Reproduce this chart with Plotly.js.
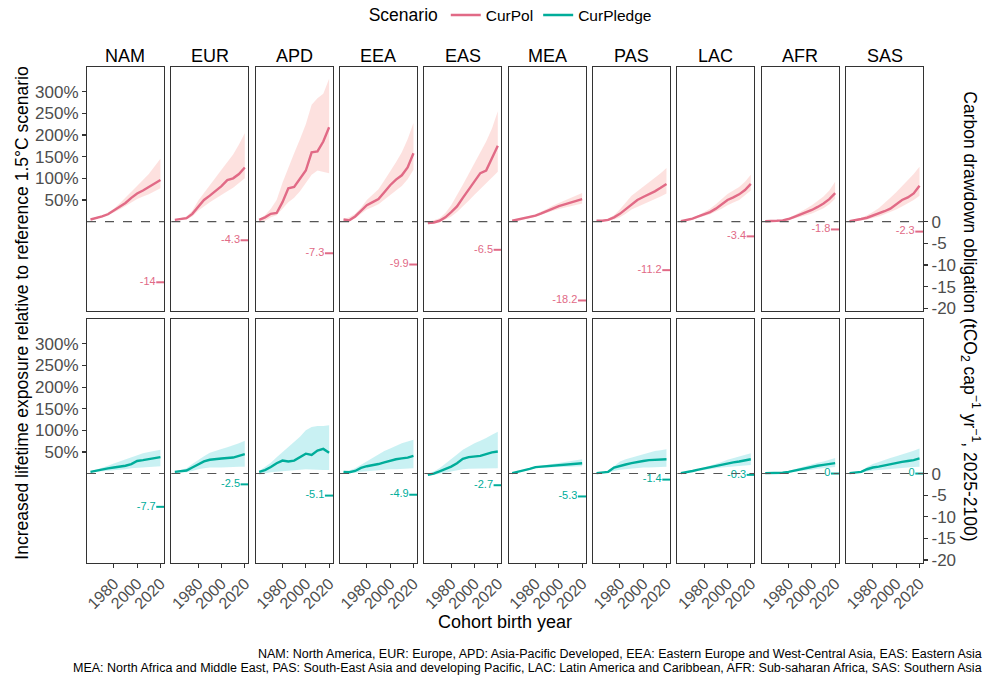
<!DOCTYPE html>
<html>
<head>
<meta charset="utf-8">
<script src="https://cdn.plot.ly/plotly-3.0.1.min.js"></script>
<style>html,body{margin:0;padding:0;background:#fff;}#chart{width:984px;height:675px;}</style>
</head>
<body>
<div id="chart"></div>
<script>
// ---------------- DATA ----------------
const regions = ['NAM','EUR','APD','EEA','EAS','MEA','PAS','LAC','AFR','SAS'];
const years = [1960,1965,1970,1975,1980,1985,1990,1995,2000,2005,2010,2015,2020];
const xTicks = [1980, 2000, 2020];
const leftTickVals = [50,100,150,200,250,300];
const leftTickText = ['50%','100%','150%','200%','250%','300%'];
const rightTickVals = [0,-5,-10,-15,-20];
const rightTickText = ['0','-5','-10','-15','-20'];

// CurPol: increased lifetime exposure (%), median and band
const curPolMid = {
  NAM:[5,8,12,17,25,33,43,55,65,72,80,88,96],
  EUR:[4,6,8,18,35,50,60,70,82,96,100,110,125],
  APD:[4,10,18,20,45,77,80,98,118,160,162,185,218],
  EEA:[5,3,12,25,38,45,52,68,84,97,107,125,158],
  EAS:[-3,-2,2,10,22,35,55,75,95,112,118,148,175],
  MEA:[2,5,7,10,14,19,25,31,36,40,44,48,52],
  PAS:[2,2,4,10,18,28,40,50,57,63,70,78,87],
  LAC:[1,4,7,12,17,22,30,40,50,56,63,73,87],
  AFR:[1,1,2,3,6,11,16,21,27,34,42,52,66],
  SAS:[1,3,6,9,14,18,24,30,40,50,56,65,83]
};
const curPolHi = {
  NAM:[6,10,15,21,30,42,55,68,82,96,110,127,145],
  EUR:[5,8,12,25,48,66,85,102,120,137,155,178,204],
  APD:[6,15,30,50,90,125,158,190,225,270,285,295,330],
  EEA:[6,10,18,32,50,62,75,95,115,137,160,190,228],
  EAS:[0,3,8,20,38,60,85,110,135,160,185,215,255],
  MEA:[3,6,9,13,17,23,30,37,43,48,54,60,66],
  PAS:[3,4,7,15,28,45,60,70,80,90,100,112,124],
  LAC:[2,5,9,15,22,30,40,52,64,72,80,92,108],
  AFR:[2,2,3,5,9,15,22,30,38,47,58,72,92],
  SAS:[2,5,9,15,22,31,42,55,68,82,95,110,127]
};
const curPolLo = {
  NAM:[4,7,10,15,21,28,35,44,52,58,63,70,77],
  EUR:[3,4,5,12,25,35,45,54,62,70,78,88,100],
  APD:[-3,2,10,15,30,45,55,70,90,108,118,115,112],
  EEA:[3,1,8,18,28,34,40,50,62,72,82,98,120],
  EAS:[-6,-5,-2,4,12,22,35,48,62,76,90,102,115],
  MEA:[1,3,5,8,11,15,20,25,29,33,36,39,42],
  PAS:[1,1,2,5,10,18,28,34,40,46,52,58,65],
  LAC:[0,3,5,9,13,17,23,30,38,44,50,60,72],
  AFR:[0,0,1,2,4,7,11,15,19,25,31,40,53],
  SAS:[0,1,3,5,8,12,17,22,28,35,42,50,60]
};
// CurPledge
const pledgeMid = {
  NAM:[4,7,9,12,14,16,18,22,29,31,33,35,38],
  EUR:[4,5,7,14,22,28,32,34,35,36,37,41,45],
  APD:[4,8,15,24,30,28,30,38,46,43,53,57,48],
  EEA:[4,3,6,13,17,19,22,26,30,33,35,37,41],
  EAS:[-3,0,5,10,16,24,34,38,39,41,45,49,51],
  MEA:[1,4,8,11,15,16,17,18,19,20,21,22,24],
  PAS:[1,2,4,14,18,21,24,27,29,31,32,33,33],
  LAC:[1,3,6,9,12,14,17,20,23,26,28,30,33],
  AFR:[1,1,1,2,4,7,10,13,15,18,20,22,24],
  SAS:[1,2,4,10,14,16,19,21,24,27,29,31,35]
};
const pledgeHi = {
  NAM:[5,9,13,18,23,28,33,38,43,47,50,53,55],
  EUR:[5,8,12,22,32,40,48,53,57,61,65,70,76],
  APD:[6,15,25,38,50,62,72,85,100,108,110,110,112],
  EEA:[5,7,12,20,28,37,45,52,58,64,70,74,78],
  EAS:[0,5,12,22,32,44,55,63,70,76,82,90,97],
  MEA:[2,5,9,13,17,18,20,22,24,26,28,30,33],
  PAS:[2,3,6,18,28,33,37,41,45,49,52,54,56],
  LAC:[2,4,7,10,14,18,22,27,32,36,40,44,47],
  AFR:[2,2,2,4,6,10,14,18,22,25,28,32,36],
  SAS:[2,4,6,15,22,27,32,36,40,44,48,53,58]
};
const pledgeLo = {
  NAM:[3,5,6,7,8,9,10,12,14,15,15,16,17],
  EUR:[3,3,3,6,10,12,14,14,14,15,15,16,16],
  APD:[-3,0,3,5,6,7,8,9,10,10,9,8,8],
  EEA:[2,1,2,4,6,7,8,9,10,10,11,11,12],
  EAS:[-5,-3,0,2,5,8,10,11,11,12,12,12,12],
  MEA:[0,3,6,9,12,13,14,14,15,15,16,16,17],
  PAS:[0,1,2,6,9,11,12,13,14,14,15,15,16],
  LAC:[0,2,4,6,9,10,12,14,16,17,18,19,20],
  AFR:[0,0,0,1,2,4,6,8,9,11,12,14,15],
  SAS:[0,1,2,5,7,9,10,11,12,13,14,15,16]
};
// Carbon drawdown obligation (tCO2 cap-1 yr-1)
const drawPol    = [-14,-4.3,-7.3,-9.9,-6.5,-18.2,-11.2,-3.4,-1.8,-2.3];
const drawPledge = [-7.7,-2.5,-5.1,-4.9,-2.7,-5.3,-1.4,-0.3,0,0];
const drawYear = 2020;

const footer1 = 'NAM: North America, EUR: Europe, APD: Asia-Pacific Developed, EEA: Eastern Europe and West-Central Asia, EAS: Eastern Asia';
const footer2 = 'MEA: North Africa and Middle East, PAS: South-East Asia and developing Pacific, LAC: Latin America and Caribbean, AFR: Sub-saharan Africa, SAS: Southern Asia';

// ---------------- STYLE ----------------
const scen = [
  {name:'CurPol', mid:curPolMid, hi:curPolHi, lo:curPolLo, draw:drawPol,
   line:'#E16A86', fill:'rgba(248,118,109,0.22)'},
  {name:'CurPledge', mid:pledgeMid, hi:pledgeHi, lo:pledgeLo, draw:drawPledge,
   line:'#00AD9A', fill:'rgba(0,191,196,0.21)'}
];
const FONT = 'Liberation Sans, Arial, Helvetica, sans-serif';
const TICKC = '#4D4D4D';
const W = 984, H = 675;
const M = {l:87.3, r:W-923.3, t:66.7, b:H-563.3};
const plotW = W - M.l - M.r, plotH = H - M.t - M.b;
const gapX = 7.4;
const panelW = (plotW - 9*gapX)/10;
const pxToFracX = px => (px - M.l)/plotW;
const pxToFracY = py => (H - M.b - py)/plotH;
const rowDomains = [[pxToFracY(311.3), 1], [0, pxToFracY(319.3)]];
const yRange = [-207, 357];

const layout = {
  width:W, height:H,
  margin:{l:M.l, r:M.r, t:M.t, b:M.b, pad:0, autoexpand:false},
  paper_bgcolor:'#fff', plot_bgcolor:'#fff',
  font:{family:FONT, color:'#000'},
  showlegend:true,
  legend:{orientation:'h', x:pxToFracX(512), xanchor:'center', y:pxToFracY(15), yanchor:'middle',
          title:{text:'Scenario', side:'left', font:{size:17.5, color:'#000'}},
          font:{size:15.5, color:'#000'}, itemwidth:30, tracegroupgap:0},
  shapes:[], annotations:[]
};
const traces = [];

for (let r=0; r<2; r++) {
  const s = scen[r];
  for (let c=0; c<10; c++) {
    const i = r*10 + c + 1;
    const xa = 'xaxis' + (i===1?'':i), ya = 'yaxis' + (i===1?'':i);
    const xr = 'x' + (i===1?'':i), yr = 'y' + (i===1?'':i);
    const x0 = c*(panelW+gapX)/plotW, x1 = x0 + panelW/plotW;
    layout[xa] = {
      domain:[x0, x1], range:[1957, 2023], anchor:yr,
      showline:true, mirror:true, linecolor:'#333', linewidth:1.1,
      showgrid:false, zeroline:false, fixedrange:true, automargin:false,
      tickvals:xTicks, ticktext:xTicks.map(String),
      ticks: r===1 ? 'outside' : '', ticklen:4, tickcolor:'#333', tickwidth:1.1,
      showticklabels: r===1, tickangle:-45,
      tickfont:{size:16, color:TICKC, family:FONT}
    };
    const yax = {
      domain:rowDomains[r], range:yRange, anchor:xr,
      showline:true, mirror:true, linecolor:'#333', linewidth:1.1,
      showgrid:false, zeroline:false, fixedrange:true, automargin:false,
      ticks:'', showticklabels:false, ticklen:4, tickcolor:'#333', tickwidth:1.1,
      tickfont:{size:17, color:TICKC, family:FONT}
    };
    if (c===0) {
      yax.tickvals = leftTickVals; yax.ticktext = leftTickText;
      yax.ticks = 'outside'; yax.showticklabels = true;
    } else if (c===9) {
      yax.side = 'right';
      yax.tickvals = rightTickVals.map(v => v*10); yax.ticktext = rightTickText;
      yax.ticks = 'outside'; yax.showticklabels = true;
    }
    layout[ya] = yax;

    const reg = regions[c];
    // ribbon
    traces.push({
      type:'scatter', mode:'lines', xaxis:xr, yaxis:yr,
      x: years.concat(years.slice().reverse()),
      y: s.hi[reg].concat(s.lo[reg].slice().reverse()),
      fill:'toself', fillcolor:s.fill, line:{width:0, color:'rgba(0,0,0,0)'},
      hoverinfo:'skip', showlegend:false
    });
    // zero line
    layout.shapes.push({type:'line', xref:xr+' domain', yref:yr, x0:0, x1:1, y0:0, y1:0,
      line:{color:'#555', width:1.1, dash:'dash'}, layer:'above'});
    // strip label
    if (r===0) {
      layout.annotations.push({text:reg, xref:xr+' domain', yref:'paper', x:0.5, y:1,
        xanchor:'center', yanchor:'bottom', yshift:-1, showarrow:false,
        font:{size:18, color:'#000', family:FONT}});
    }
  }
}
// lines and drawdown markers on top
for (let r=0; r<2; r++) {
  const s = scen[r];
  for (let c=0; c<10; c++) {
    const i = r*10 + c + 1;
    const xr = 'x' + (i===1?'':i), yr = 'y' + (i===1?'':i);
    const reg = regions[c];
    traces.push({
      type:'scatter', mode:'lines', xaxis:xr, yaxis:yr, x:years, y:s.mid[reg],
      line:{color:s.line, width:2.4}, name:s.name, legendgroup:s.name,
      showlegend: c===0, hoverinfo:'skip'
    });
    traces.push({
      type:'scatter', mode:'markers+text', xaxis:xr, yaxis:yr,
      x:[drawYear], y:[s.draw[c]*10], text:[String(s.draw[c])],
      textposition:'middle left', textfont:{size:11, color:s.line, family:FONT},
      marker:{symbol:'line-ew', size:6, line:{color:s.line, width:2}},
      showlegend:false, hoverinfo:'skip', cliponaxis:false
    });
  }
}

// axis titles and caption
layout.annotations.push(
  {text:'Cohort birth year', xref:'paper', yref:'paper', x:pxToFracX(505), y:pxToFracY(622),
   xanchor:'center', yanchor:'middle', showarrow:false, font:{size:18, color:'#000', family:FONT}},
  {text:'Increased lifetime exposure relative to reference 1.5°C scenario', xref:'paper', yref:'paper',
   x:pxToFracX(22), y:pxToFracY(313), xanchor:'center', yanchor:'middle', textangle:-90,
   showarrow:false, font:{size:17.5, color:'#000', family:FONT}},
  {text:'Carbon drawdown obligation (tCO<sub>2</sub> cap<sup>−1</sup> yr<sup>−1</sup>, 2025-2100)', xref:'paper', yref:'paper',
   x:pxToFracX(970), y:pxToFracY(316), xanchor:'center', yanchor:'middle', textangle:90,
   showarrow:false, font:{size:17.5, color:'#000', family:FONT}},
  {text:footer1, xref:'paper', yref:'paper', x:pxToFracX(983), y:pxToFracY(654),
   xanchor:'right', yanchor:'middle', borderpad:0, showarrow:false,
   font:{size:12.5, color:'#000', family:FONT}},
  {text:footer2, xref:'paper', yref:'paper', x:pxToFracX(983), y:pxToFracY(668),
   xanchor:'right', yanchor:'middle', borderpad:0, showarrow:false,
   font:{size:12.5, color:'#000', family:FONT}}
);

Plotly.newPlot('chart', traces, layout, {displayModeBar:false, staticPlot:true});
</script>
</body>
</html>
